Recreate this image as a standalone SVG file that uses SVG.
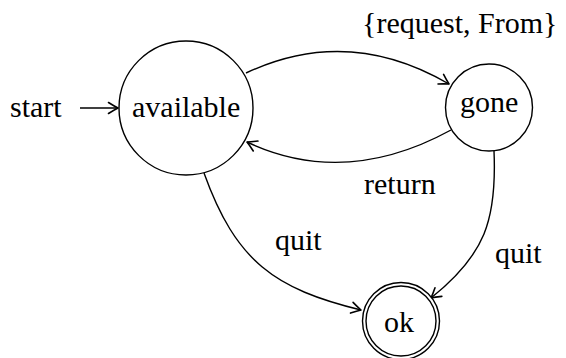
<svg xmlns="http://www.w3.org/2000/svg" width="566" height="358" viewBox="0 0 566 358">
<defs>
<marker id="arr" markerUnits="userSpaceOnUse" markerWidth="16" markerHeight="16" refX="12" refY="8" orient="auto" overflow="visible">
<path d="M2.5,2.5 Q8.5,6.3 12,8 Q8.5,9.7 2.5,13.5" fill="none" stroke="#000" stroke-width="1.6" stroke-linecap="round" stroke-linejoin="round"/>
</marker>
</defs>
<rect width="566" height="358" fill="#fff"/>
<g id="connectors" fill="none" stroke="#000" stroke-width="1.4" marker-end="url(#arr)">
<path d="M80,108 L118,108"/>
<path d="M246,73 Q348,25 449,84"/>
<path d="M451,130 Q345,188 247,142"/>
<path d="M204,173 C236,262 275,289 361,310"/>
<path d="M494,151 C497,220 485,255 431,298"/>
</g>
<g id="edge-labels" font-family="Times New Roman, Liberation Serif, serif" font-size="30">
<text x="362" y="33">{request, From}</text>
<text x="364" y="194">return</text>
<text x="275" y="250">quit</text>
<text x="495" y="263">quit</text>
</g>
<g id="start" font-family="Times New Roman, Liberation Serif, serif" font-size="30">
<text x="10" y="117">start</text>
</g>
<g id="available">
<circle cx="186" cy="108" r="67" fill="#fff" stroke="#000" stroke-width="1.4"/>
<text x="132" y="117" font-family="Times New Roman, Liberation Serif, serif" font-size="30">available</text>
</g>
<g id="gone">
<circle cx="489" cy="107.5" r="43.5" fill="#fff" stroke="#000" stroke-width="1.4"/>
<text x="460" y="112" font-family="Times New Roman, Liberation Serif, serif" font-size="30">gone</text>
</g>
<g id="ok">
<circle cx="401" cy="321" r="38.5" fill="#fff" stroke="#000" stroke-width="1.4"/>
<circle cx="401" cy="321" r="35" fill="#fff" stroke="#000" stroke-width="1.4"/>
<text x="384" y="332" font-family="Times New Roman, Liberation Serif, serif" font-size="30">ok</text>
</g>
</svg>
